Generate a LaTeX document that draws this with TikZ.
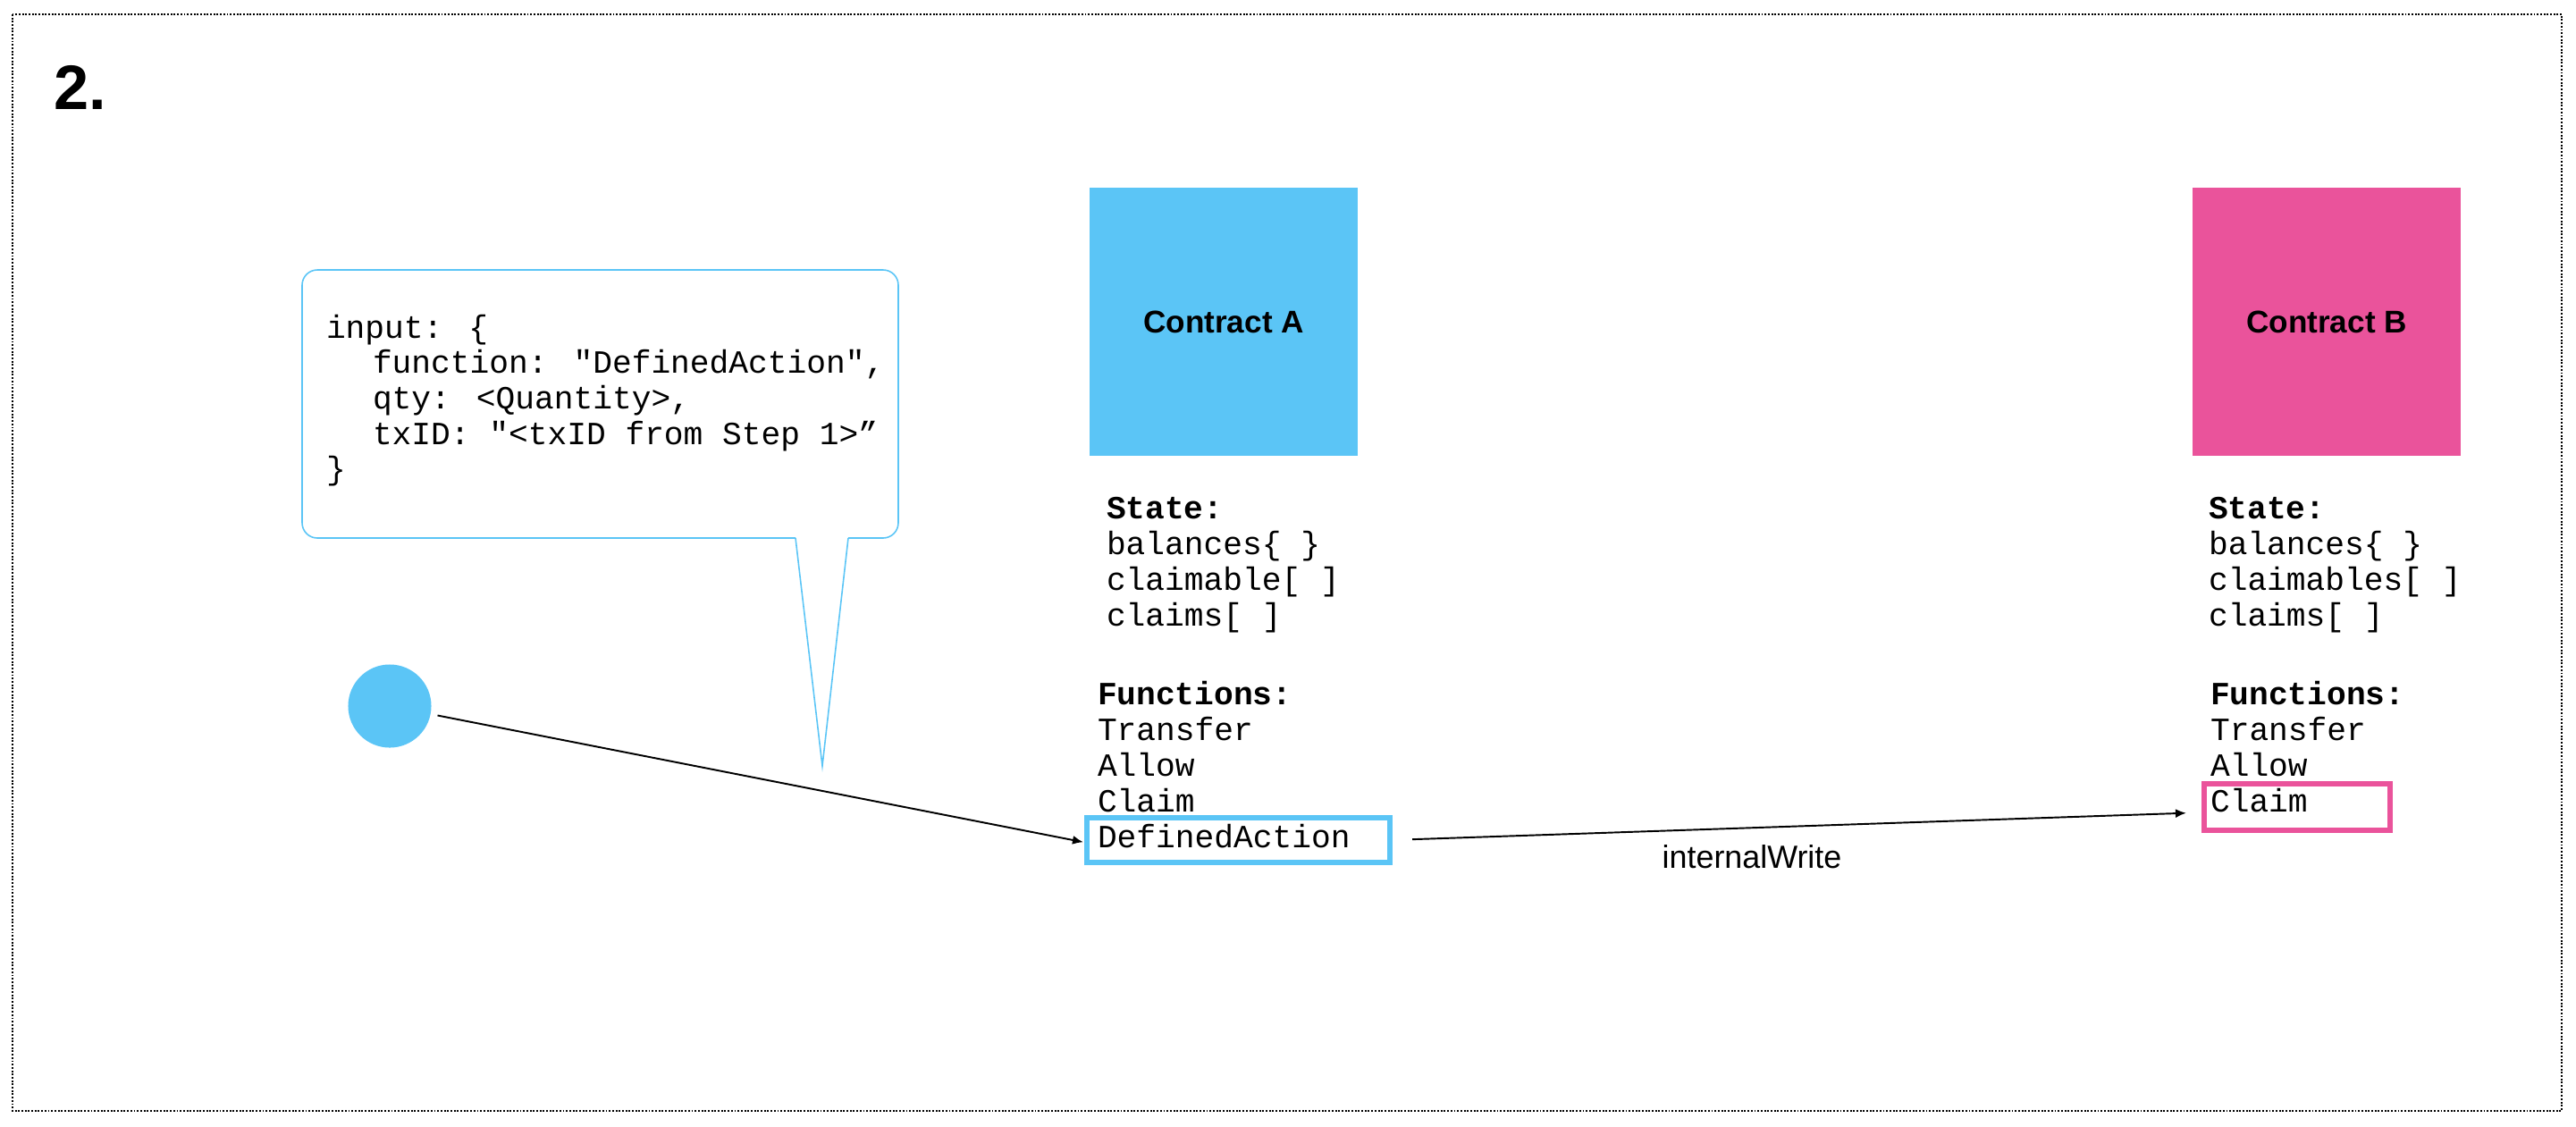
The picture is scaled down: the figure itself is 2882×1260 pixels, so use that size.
\documentclass[tikz,border=0pt]{standalone}
\usepackage{fontspec}
\setmainfont{Liberation Sans}
\newfontfamily\codefont{Liberation Mono}
\usetikzlibrary{arrows.meta}
\definecolor{ctrblue}{HTML}{5BC5F6}
\definecolor{ctrpink}{HTML}{EA539B}

\begin{document}
\begin{tikzpicture}[x=0.01cm,y=-0.01cm]
    \tikzstyle{every node}=[inner sep=0pt,outer sep=0pt]
    \tikzstyle{code}=[anchor=base west,font=\codefont\fontsize{10.3}{12}\selectfont]
    \tikzstyle{codebf}=[code,font=\codefont\bfseries\fontsize{10.3}{12}\selectfont]
    \tikzstyle{ctrbox}=[minimum width=3cm,minimum height=3cm,font=\bfseries\fontsize{10}{12}\selectfont]
    \tikzstyle{selbox}=[draw,line width=1.7pt]
    \tikzstyle{link}=[-{Latex[length=0.12cm,width=0.1cm]},line width=0.55pt]

    \useasboundingbox (0,0) rectangle (2882,1260);
    \draw[line width=0.55pt,dash pattern=on 0.55pt off 0.5pt] (14,16) rectangle (2866,1243);
    \node[anchor=base west,font=\bfseries\fontsize{20}{24}\selectfont] (stepnum) at (60,122) {2.};

    % call-out with the input
    \begin{scope}[ctrblue,line width=0.45pt]
       \draw[rounded corners=0.17cm] (949,602) -- (1005,602) -- (1005,302) -- (338,302) -- (338,602) -- (890,602);
       \draw (890,602) -- (920,857) -- (949,602);
    \end{scope}
    \node[code] (in0) at (365,378) {input: \{};
    \node[code] (in1) at (417,417) {function: "DefinedAction",};
    \node[code] (in2) at (417,457) {qty: <Quantity>,};
    \node[code] (in3) at (417,497) {txID: "<txID from Step 1>”};
    \node[code] (in4) at (365,536) {\}};

    \node[circle,fill=ctrblue,minimum size=0.93cm] (user) at (436,790) {};

    % contract A
    \begin{scope}
       \node[ctrbox,fill=ctrblue] (ctrA) at (1369,360) {Contract A};
       \node[codebf] (stateA) at (1238,580) {State:};
       \foreach \txt [count=\i] in {balances\{ \},claimable[ ],claims[ ]}
           \node[code] (stA\i) at (1238,580+40*\i) {\txt};
       \node[codebf] (funcA) at (1228,788) {Functions:};
       \foreach \txt [count=\i] in {Transfer,Allow,Claim,DefinedAction}
           \node[code] (fnA\i) at (1228,788+40*\i) {\txt};
       \node[selbox,draw=ctrblue,minimum width=3.39cm,minimum height=0.5cm] (selA) at (1385.5,940) {};
    \end{scope}

    % contract B
    \begin{scope}
       \node[ctrbox,fill=ctrpink] (ctrB) at (2603,360) {Contract B};
       \node[codebf] (stateB) at (2471,580) {State:};
       \foreach \txt [count=\i] in {balances\{ \},claimables[ ],claims[ ]}
           \node[code] (stB\i) at (2471,580+40*\i) {\txt};
       \node[codebf] (funcB) at (2473,788) {Functions:};
       \foreach \txt [count=\i] in {Transfer,Allow,Claim}
           \node[code] (fnB\i) at (2473,788+40*\i) {\txt};
       \node[selbox,draw=ctrpink,minimum width=2.08cm,minimum height=0.52cm] (selB) at (2570,903) {};
    \end{scope}

    \draw[link,shorten <=0.08cm,shorten >=0.04cm] (user) -- ([yshift=-0.03cm]selA.west);
    \draw[link,shorten <=0.25cm,shorten >=0.2cm] (selA.east) -- ([yshift=-0.06cm]selB.west);
    \node[anchor=base,font=\fontsize{10.2}{12}\selectfont] (iw) at (1960,971) {internalWrite};
\end{tikzpicture}
\end{document}
